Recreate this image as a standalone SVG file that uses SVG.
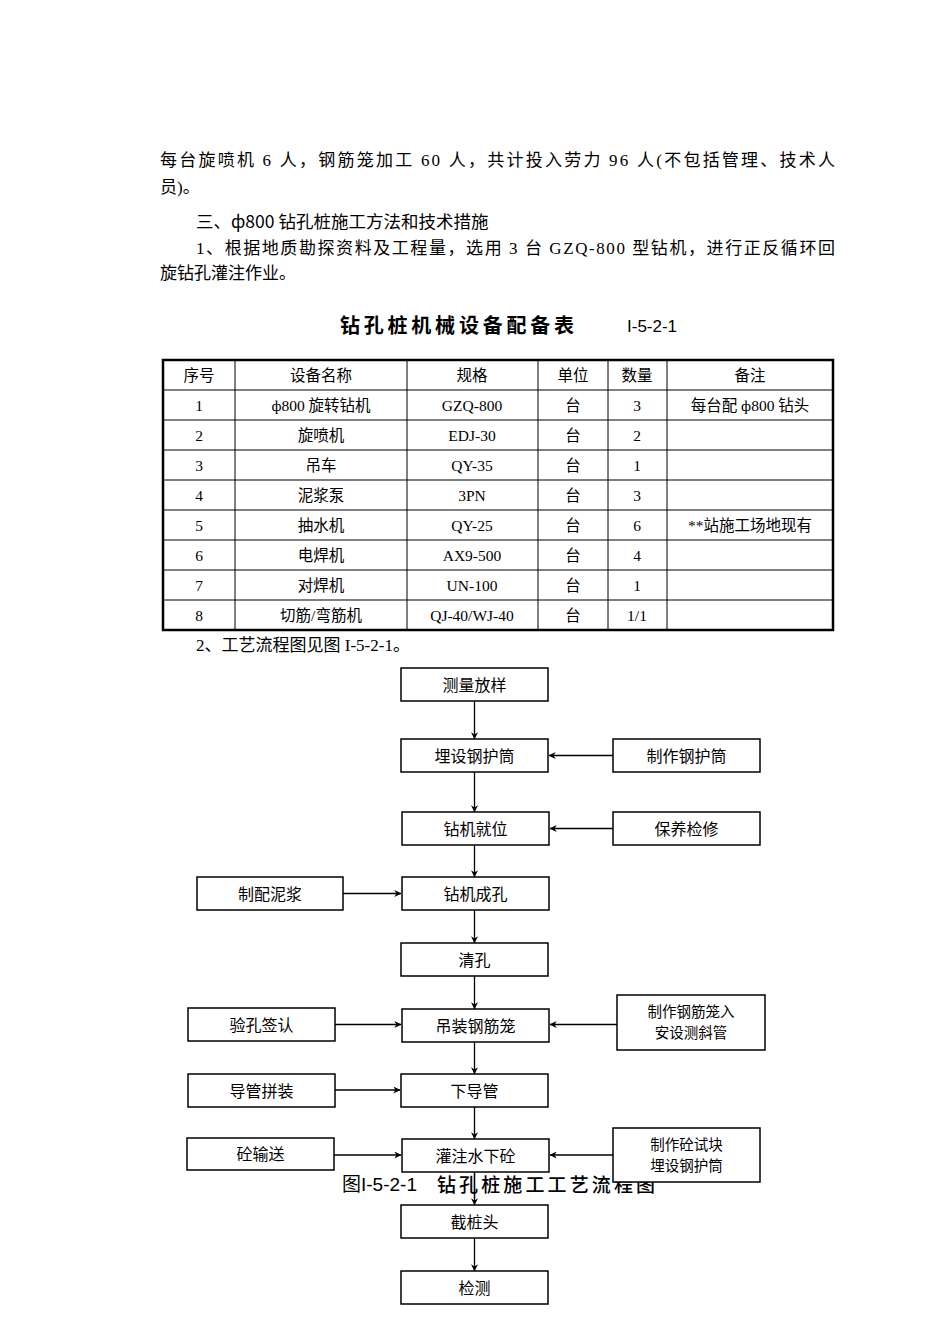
<svg xmlns="http://www.w3.org/2000/svg" width="950" height="1344" viewBox="0 0 950 1344">
<style>
.body{font-family:"Liberation Serif","Noto Sans CJK SC",serif;font-size:17px;fill:#000}
.head{font-family:"Noto Sans CJK SC",sans-serif;font-size:17.5px;fill:#000}
.cell{font-family:"Liberation Serif","Noto Sans CJK SC",serif;font-size:15.5px;fill:#000;text-anchor:middle}
.title{font-family:"Noto Sans CJK SC",sans-serif;font-size:20px;font-weight:bold;fill:#000}
.cap{font-family:"Noto Sans CJK SC",sans-serif;font-size:19px;font-weight:500;fill:#000}
.lbl{font-family:"Liberation Sans","Noto Sans CJK SC",sans-serif;font-size:17px;fill:#000}
.box rect{fill:#fff;stroke:#000;stroke-width:1.5}
.box text{font-family:"Noto Sans CJK SC",sans-serif;font-size:16px;fill:#000;text-anchor:middle}
.box text.sm{font-size:14.5px}
.conn line{stroke:#000;stroke-width:1.3;fill:none}
.tl{stroke:#000;stroke-width:1}
</style>
<defs>
<marker id="ah" viewBox="0 0 10 10" refX="9.5" refY="5" markerWidth="7" markerHeight="7" orient="auto" markerUnits="userSpaceOnUse">
<path d="M0,0 L10,5 L0,10 L3,5 z" fill="#000"/>
</marker>
</defs>
<rect width="950" height="1344" fill="#fff"/>

<!-- paragraph text -->
<text class="body" x="160" y="166" textLength="675" lengthAdjust="spacing">每台旋喷机 6 人，钢筋笼加工 60 人，共计投入劳力 96 人(不包括管理、技术人</text>
<text class="body" x="160" y="193">员)。</text>
<text class="head" x="196" y="228">三、ф800 钻孔桩施工方法和技术措施</text>
<text class="body" x="196" y="254" textLength="639" lengthAdjust="spacing">1、根据地质勘探资料及工程量，选用 3 台 GZQ-800 型钻机，进行正反循环回</text>
<text class="body" x="160" y="279">旋钻孔灌注作业。</text>

<!-- table title -->
<text class="title" x="340" y="333" textLength="234" lengthAdjust="spacing">钻孔桩机械设备配备表</text>
<text class="lbl" x="627" y="332">I-5-2-1</text>

<!-- table -->
<g id="table">
<g class="tl">
<line x1="163" y1="390" x2="833" y2="390"/>
<line x1="163" y1="420" x2="833" y2="420"/>
<line x1="163" y1="450" x2="833" y2="450"/>
<line x1="163" y1="480" x2="833" y2="480"/>
<line x1="163" y1="510" x2="833" y2="510"/>
<line x1="163" y1="540" x2="833" y2="540"/>
<line x1="163" y1="570" x2="833" y2="570"/>
<line x1="163" y1="600" x2="833" y2="600"/>
<line x1="235" y1="360" x2="235" y2="630"/>
<line x1="407" y1="360" x2="407" y2="630"/>
<line x1="538" y1="360" x2="538" y2="630"/>
<line x1="608" y1="360" x2="608" y2="630"/>
<line x1="667" y1="360" x2="667" y2="630"/>
</g>
<rect x="163" y="360" width="670" height="270" fill="none" stroke="#000" stroke-width="2.5"/>
<g class="cell">
<text x="199" y="381">序号</text><text x="321" y="381">设备名称</text><text x="472" y="381">规格</text><text x="573" y="381">单位</text><text x="637" y="381">数量</text><text x="750" y="381">备注</text>
<text x="199" y="411">1</text><text x="321" y="411">ф800 旋转钻机</text><text x="472" y="411">GZQ-800</text><text x="573" y="411">台</text><text x="637" y="411">3</text><text x="750" y="411">每台配 ф800 钻头</text>
<text x="199" y="441">2</text><text x="321" y="441">旋喷机</text><text x="472" y="441">EDJ-30</text><text x="573" y="441">台</text><text x="637" y="441">2</text>
<text x="199" y="471">3</text><text x="321" y="471">吊车</text><text x="472" y="471">QY-35</text><text x="573" y="471">台</text><text x="637" y="471">1</text>
<text x="199" y="501">4</text><text x="321" y="501">泥浆泵</text><text x="472" y="501">3PN</text><text x="573" y="501">台</text><text x="637" y="501">3</text>
<text x="199" y="531">5</text><text x="321" y="531">抽水机</text><text x="472" y="531">QY-25</text><text x="573" y="531">台</text><text x="637" y="531">6</text><text x="750" y="531">**站施工场地现有</text>
<text x="199" y="561">6</text><text x="321" y="561">电焊机</text><text x="472" y="561">AX9-500</text><text x="573" y="561">台</text><text x="637" y="561">4</text>
<text x="199" y="591">7</text><text x="321" y="591">对焊机</text><text x="472" y="591">UN-100</text><text x="573" y="591">台</text><text x="637" y="591">1</text>
<text x="199" y="621">8</text><text x="321" y="621">切筋/弯筋机</text><text x="472" y="621">QJ-40/WJ-40</text><text x="573" y="621">台</text><text x="637" y="621">1/1</text>
</g>
</g>

<text class="body" x="196" y="651">2、工艺流程图见图 I-5-2-1。</text>

<!-- caption (partly hidden behind boxes) -->
<g id="caption">
<text class="lbl" x="342" y="1191" style="font-size:19px">图I-5-2-1</text>
<text class="cap" x="437" y="1192" textLength="218" lengthAdjust="spacing">钻孔桩施工工艺流程图</text>
</g>

<!-- connectors -->
<g id="connectors" class="conn">
<line x1="474.5" y1="701" x2="474.5" y2="739" marker-end="url(#ah)"/>
<line x1="474.5" y1="772" x2="474.5" y2="812" marker-end="url(#ah)"/>
<line x1="474.5" y1="845" x2="474.5" y2="877" marker-end="url(#ah)"/>
<line x1="474.5" y1="910" x2="474.5" y2="943" marker-end="url(#ah)"/>
<line x1="474.5" y1="976" x2="474.5" y2="1009" marker-end="url(#ah)"/>
<line x1="474.5" y1="1042" x2="474.5" y2="1074" marker-end="url(#ah)"/>
<line x1="474.5" y1="1107" x2="474.5" y2="1139" marker-end="url(#ah)"/>
<line x1="474.5" y1="1172" x2="474.5" y2="1205" marker-end="url(#ah)"/>
<line x1="474.5" y1="1238" x2="474.5" y2="1271" marker-end="url(#ah)"/>
<line x1="613" y1="755.5" x2="549" y2="755.5" marker-end="url(#ah)"/>
<line x1="613" y1="828.5" x2="550" y2="828.5" marker-end="url(#ah)"/>
<line x1="340" y1="893.5" x2="401" y2="893.5" marker-end="url(#ah)"/>
<line x1="335" y1="1024.5" x2="401" y2="1024.5" marker-end="url(#ah)"/>
<line x1="617" y1="1024.5" x2="550" y2="1024.5" marker-end="url(#ah)"/>
<line x1="335" y1="1090" x2="400" y2="1090" marker-end="url(#ah)"/>
<line x1="334" y1="1155" x2="401" y2="1155" marker-end="url(#ah)"/>
<line x1="613" y1="1155" x2="550" y2="1155" marker-end="url(#ah)"/>
</g>

<!-- nodes -->
<g id="n1" class="box"><rect x="401" y="668" width="147" height="33"/><text x="474.5" y="690.5">测量放样</text></g>
<g id="n2" class="box"><rect x="401" y="739" width="147" height="33"/><text x="474.5" y="761.5">埋设钢护筒</text></g>
<g id="n3" class="box"><rect x="613" y="739" width="147" height="33"/><text x="686.5" y="761.5">制作钢护筒</text></g>
<g id="n4" class="box"><rect x="402" y="812" width="147" height="33"/><text x="475.5" y="834.5">钻机就位</text></g>
<g id="n5" class="box"><rect x="613" y="812" width="147" height="33"/><text x="686.5" y="834.5">保养检修</text></g>
<g id="n6" class="box"><rect x="197" y="877" width="146" height="33"/><text x="270" y="899.5">制配泥浆</text></g>
<g id="n7" class="box"><rect x="402" y="877" width="147" height="33"/><text x="475.5" y="899.5">钻机成孔</text></g>
<g id="n8" class="box"><rect x="401" y="943" width="147" height="33"/><text x="474.5" y="965.5">清孔</text></g>
<g id="n9" class="box"><rect x="188" y="1008" width="147" height="33"/><text x="261.5" y="1030.5">验孔签认</text></g>
<g id="n10" class="box"><rect x="402" y="1009" width="147" height="33"/><text x="475.5" y="1031.5">吊装钢筋笼</text></g>
<g id="n11" class="box"><rect x="617" y="995" width="148" height="55"/><text class="sm" x="691" y="1017">制作钢筋笼入</text><text class="sm" x="691" y="1038">安设测斜管</text></g>
<g id="n12" class="box"><rect x="188" y="1074" width="147" height="33"/><text x="261.5" y="1096.5">导管拼装</text></g>
<g id="n13" class="box"><rect x="401" y="1074" width="147" height="33"/><text x="474.5" y="1096.5">下导管</text></g>
<g id="n14" class="box"><rect x="187" y="1138" width="147" height="32"/><text x="260.5" y="1160">砼输送</text></g>
<g id="n15" class="box"><rect x="402" y="1139" width="147" height="33"/><text x="475.5" y="1161.5">灌注水下砼</text></g>
<g id="n16" class="box"><rect x="613" y="1128" width="147" height="54"/><text class="sm" x="686.5" y="1150">制作砼试块</text><text class="sm" x="686.5" y="1171">埋设钢护筒</text></g>
<g id="n17" class="box"><rect x="401" y="1205" width="147" height="33"/><text x="474.5" y="1227.5">截桩头</text></g>
<g id="n18" class="box"><rect x="401" y="1271" width="147" height="33"/><text x="474.5" y="1293.5">检测</text></g>

<!-- vertical connector drawn over caption -->
<line x1="474.5" y1="1172" x2="474.5" y2="1198" stroke="#000" stroke-width="1.3"/>
</svg>
